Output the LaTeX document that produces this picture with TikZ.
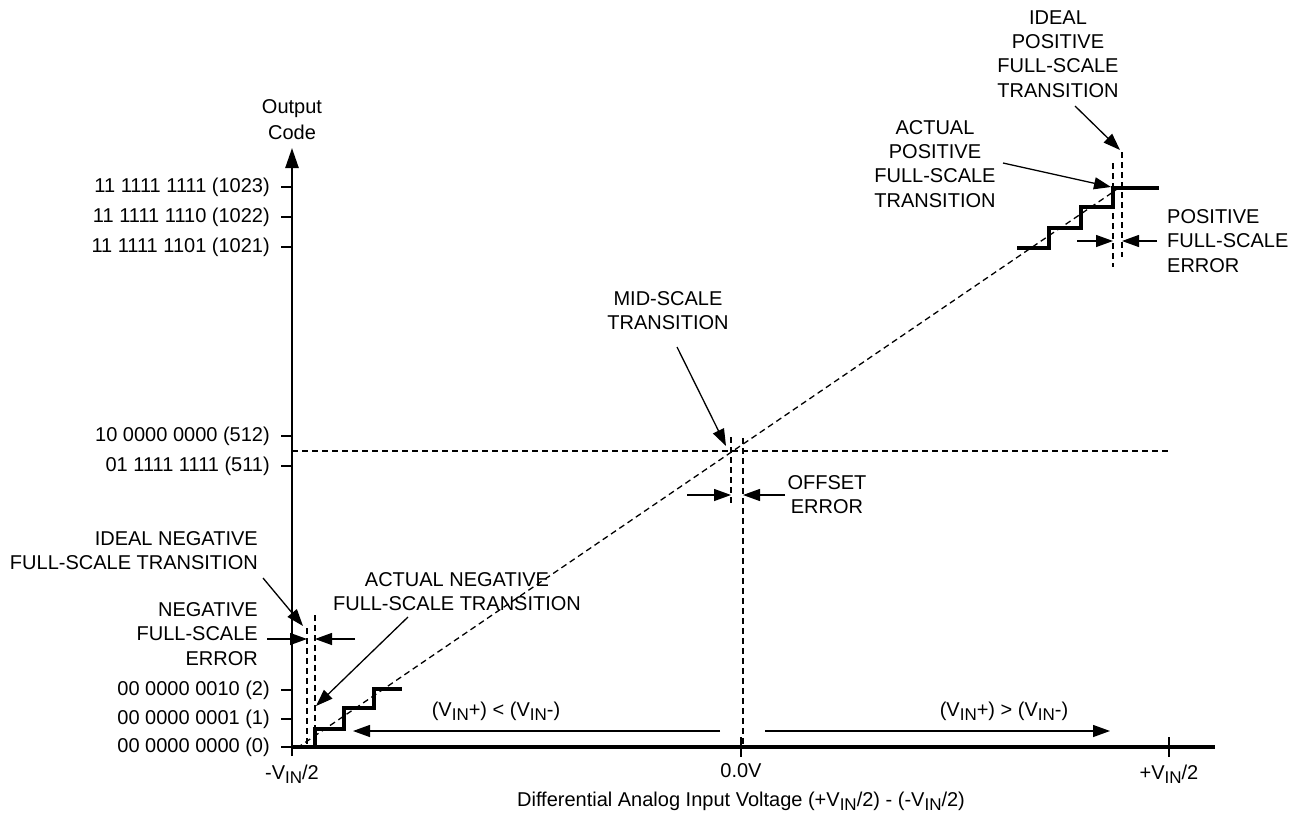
\documentclass[tikz,border=0pt]{standalone}
\usepackage{fontspec}
\setmainfont{Liberation Sans}
\usetikzlibrary{arrows.meta}
\usetikzlibrary{positioning}

\newcommand{\vin}{V\raisebox{-4pt}{\fontsize{17}{17}\selectfont IN}}

\begin{document}
\begin{tikzpicture}[
    x=1pt, y=-1pt,
    font=\fontsize{20}{24.2}\selectfont
]
\tikzset{
    yaxis/.style = {line width=2.5pt},
    xaxis/.style = {line width=4.5pt},
    tickmark/.style = {line width=2pt},
    stair/.style = {line width=3.5pt, line join=miter},
    guide/.style = {line width=1.3pt, dash pattern=on 6pt off 4pt},
    pointer/.style = {-{Triangle[length=17pt,width=12pt]}, line width=1.3pt},
    codelabel/.style = {anchor=east, inner sep=0pt},
    note/.style = {align=center, inner sep=0pt}
}
\useasboundingbox (0,0) rectangle (1302,819);

% axes
\coordinate (ybot) at (292,756);
\coordinate (ytop) at (292,148);
\coordinate (origin) at (292,747);
\coordinate (xend) at (1215,747);
\draw[yaxis, -{Triangle[length=20pt,width=13pt]}] (ybot) -- (ytop);
\draw[xaxis] (origin) -- (xend);
\node[note] (ytitle) at (292,120) {Output\\[2pt]Code};

% output codes
\foreach \y/\code in {187/11 1111 1111 (1023), 217/11 1111 1110 (1022),
    247/11 1111 1101 (1021), 436/10 0000 0000 (512), 466/01 1111 1111 (511),
    690/00 0000 0010 (2), 719/00 0000 0001 (1), 747/00 0000 0000 (0)} {
  \node[codelabel] (code\y) at (270,\y) {\code};
  \draw[tickmark] (281,\y) -- (292,\y);
}

% input voltages
\foreach \x in {741,1169}
  \draw[tickmark] (\x,737) -- (\x,757);
\node[anchor=base] (vneg) at (292,779) {-\vin/2};
\node[anchor=base] (vzero) at (741,777) {0.0V};
\node[anchor=base] (vpos) at (1169,779) {+\vin/2};
\node[anchor=base] (xtitle) at (741,806) {Differential Analog Input Voltage (+\vin/2) - (-\vin/2)};

% ideal transfer line and mid-scale
\coordinate (ideallo) at (297,748);
\coordinate (idealhi) at (1116,190);
\draw[guide] (ideallo) -- (idealhi);
\coordinate (midl) at (292,451);
\coordinate (midr) at (1170,451);
\draw[guide] (midl) -- (midr);
\coordinate (midideal) at (731,437);
\coordinate (mididealb) at (731,503);
\coordinate (midact) at (743,438);
\coordinate (midactb) at (743,745);
\draw[guide] (midideal) -- (mididealb);
\draw[guide] (midact) -- (midactb);

% negative full scale
\coordinate (negideal) at (307,628);
\coordinate (negidealb) at (307,745);
\coordinate (negact) at (315,615);
\coordinate (negactb) at (315,729);
\draw[guide] (negideal) -- (negidealb);
\draw[guide] (negact) -- (negactb);
\draw[stair] (315,747) -- (315,729) -- (344,729) -- (344,708)
    -- (374,708) -- (374,689) -- (402,689);

% positive full scale
\coordinate (posideal) at (1122,152);
\coordinate (posidealb) at (1122,257);
\coordinate (posact) at (1113,163);
\coordinate (posactb) at (1113,267);
\draw[guide] (posideal) -- (posidealb);
\draw[guide] (posact) -- (posactb);
\draw[stair] (1017,248) -- (1049,248) -- (1049,228) -- (1081,228)
    -- (1081,207) -- (1113,207) -- (1113,188) -- (1159,188);

% labels
\node[note, align=right, anchor=east] (idealneg) at (258,551) {IDEAL NEGATIVE\\FULL-SCALE TRANSITION};
\node[note, align=right, anchor=east] (negerr) at (258,634) {NEGATIVE\\FULL-SCALE\\ERROR};
\node[note] (actneg) at (457,592) {ACTUAL NEGATIVE\\FULL-SCALE TRANSITION};
\node[note] (midlab) at (668,311) {MID-SCALE\\TRANSITION};
\node[note] (offlab) at (827,495) {OFFSET\\ERROR};
\node[note] (lesslab) at (496,711) {(\vin+) < (\vin-)};
\node[note] (morelab) at (1004,711) {(\vin+) > (\vin-)};
\node[note] (idealpos) at (1058,54) {IDEAL\\POSITIVE\\FULL-SCALE\\TRANSITION};
\node[note] (actpos) at (935,164) {ACTUAL\\POSITIVE\\FULL-SCALE\\TRANSITION};
\node[note, align=left, anchor=west] (poserr) at (1167,241) {POSITIVE\\FULL-SCALE\\ERROR};

% pointers
\coordinate (p1) at (263,578);  \coordinate (t1) at (303,626);
\coordinate (p2) at (267,639);  \coordinate (t2) at (307,639);
\coordinate (p3) at (355,639);  \coordinate (t3) at (315,639);
\coordinate (p4) at (408,617);  \coordinate (t4) at (316,706);
\coordinate (p5) at (677,347);  \coordinate (t5) at (726,446);
\coordinate (p6) at (687,495);  \coordinate (t6) at (731,495);
\coordinate (p7) at (785,495);  \coordinate (t7) at (743,495);
\coordinate (p8) at (720,731);  \coordinate (t8) at (353,731);
\coordinate (p9) at (765,731);  \coordinate (t9) at (1110,731);
\coordinate (p10) at (1075,106); \coordinate (t10) at (1120,150);
\coordinate (p11) at (1003,163); \coordinate (t11) at (1111,187);
\coordinate (p12) at (1077,241); \coordinate (t12) at (1113,241);
\coordinate (p13) at (1157,241); \coordinate (t13) at (1122,241);
\foreach \i in {1,...,13}
  \draw[pointer] (p\i) -- (t\i);
\end{tikzpicture}
\end{document}
